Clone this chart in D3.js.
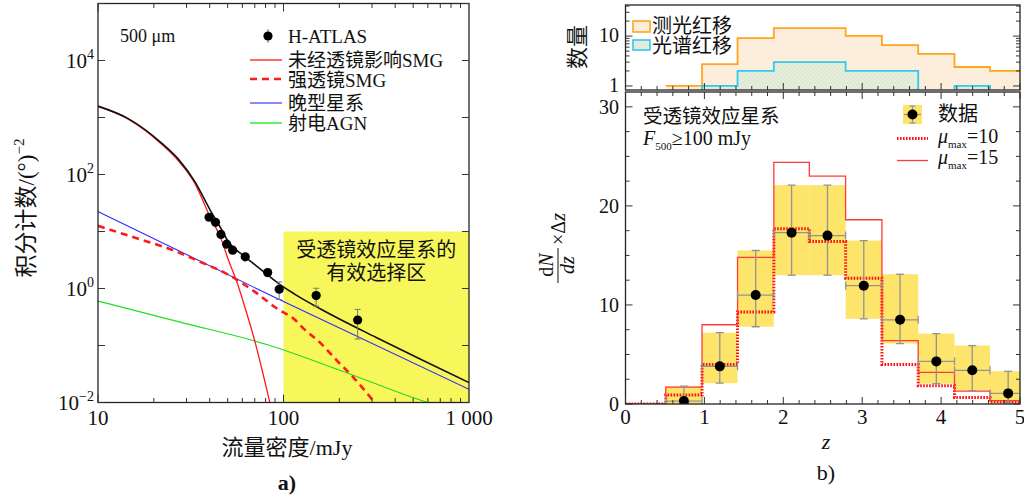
<!DOCTYPE html>
<html><head><meta charset="utf-8">
<script src="https://cdn.jsdelivr.net/npm/d3@7"></script>
<style>
body{margin:0;background:#fff}
svg{display:block}
text{font-family:"Liberation Serif","Noto Sans CJK SC",serif;fill:#111}
</style>
</head><body>
<svg id="c" width="1024" height="497"></svg>
<script>
// ===== Panel a data (flux density mJy, integral counts deg^-2) =====
const countS   = [39.7, 43, 46, 49.4, 53.2, 62.2, 82.2, 94.8, 150, 251];
const countN   = [17.8, 14.5, 8.9, 6.0, 4.7, 3.6, 1.9, 0.97, 0.75, 0.28];
const countErr = [1.0, 0.8, 0.6, 0.45, 0.4, 0.35, 0.25, 0.33, 0.26, 0.15];

const totalS = [10, 14.55, 22.03, 27.1, 33.34, 40.18, 46.45, 50.47, 61.94, 76.21, 93.76, 115.3, 158.5, 316.2, 562.3, 1000];
const totalN = [1585, 955, 355, 186, 74.1, 24.0, 10.7, 6.6, 3.63, 2.11, 1.23, 0.79, 0.437, 0.138, 0.055, 0.0224];

const unlensS = [10, 14.55, 22.03, 27.1, 33.34, 39.4, 46.45, 50.47, 55.85, 61.94, 70.15, 77.62, 85.1];
const unlensN = [1549, 933, 339, 174, 69.2, 20.9, 6.92, 3.16, 1.35, 0.468, 0.117, 0.0316, 0.0089];

const lensS = [10, 15.85, 24.95, 35.48, 50.47, 70.15, 92.0, 115.3, 127.9, 158.5, 193.6, 239.9, 292.4, 316.2];
const lensN = [12.6, 7.76, 4.79, 2.95, 1.74, 0.871, 0.447, 0.282, 0.2, 0.11, 0.055, 0.0269, 0.0126, 0.0093];

const lateS = [10, 100, 1000];
const lateN = [22.4, 0.589, 0.017];

const agnS = [10, 27.7, 84.5, 199.5, 595.7, 640];
const agnN = [0.603, 0.257, 0.1, 0.0372, 0.01, 0.0093];

const aXTicks = [10, 100, 1000];
const aXLabels = ["10", "100", "1 000"];
const aYTicks = [1e-2, 1, 1e2, 1e4];
const aYExp = ["\u22122", "0", "2", "4"];
const aLegend = ["H-ATLAS", "未经透镜影响SMG", "强透镜SMG", "晚型星系", "射电AGN"];

// ===== Panel b data =====
const zEdges = [0, 0.51, 0.97, 1.42, 1.88, 2.33, 2.79, 3.25, 3.71, 4.17, 4.62, 5.08];
const dataN  = [0.3, 3.8, 11.0, 17.3, 17.0, 11.95, 8.5, 4.3, 3.4, 1.07];
const dataLo = [0, 2.1, 7.8, 13.0, 13.0, 8.6, 6.1, 2.05, 1.35, 0.1];
const dataHi = [1.8, 7.2, 15.5, 22.1, 22.1, 16.5, 13.1, 7.1, 5.9, 3.3];
const mu15 = [0, 1.7, 8.0, 14.8, 24.4, 23.0, 18.6, 6.4, 3.2, 1.3, 0.35];
const mu10 = [0, 0.9, 4.0, 9.3, 17.7, 16.4, 12.7, 4.0, 1.85, 0.65, 0.2];
const photoN = [1, 2.75, 9.1, 14.5, 14.5, 10.1, 6.6, 4.4, 2.4, 2.0];
const specN  = [0, 1, 2, 3, 3, 2, 2, 0, 1, 0];
const bXTicks = [0, 1, 2, 3, 4, 5];
const bYTicks = [0, 10, 20, 30];
const topYTicks = [1, 10];

const svg = d3.select("#c");
const defs = svg.append("defs");

// ---------------- Panel a ----------------
const A = {x0: 98, x1: 469, y0: 3.5, y1: 402.5};
const xA = d3.scaleLog().domain([10, 1000]).range([A.x0, A.x1]);
const yA = d3.scaleLog().domain([1e-2, 1e5]).range([A.y1, A.y0]);
defs.append("clipPath").attr("id", "clipA").append("rect")
  .attr("x", A.x0).attr("y", A.y0).attr("width", A.x1 - A.x0).attr("height", A.y1 - A.y0);

const gA = svg.append("g");
gA.append("rect").attr("x", xA(100)).attr("y", yA(10))
  .attr("width", xA(1000) - xA(100)).attr("height", yA(1e-2) - yA(10))
  .attr("fill", "#f7f75c");
gA.append("text").attr("x", xA(316)).attr("y", 257).attr("text-anchor", "middle")
  .attr("font-size", 20).text("受透镜效应星系的");
gA.append("text").attr("x", xA(316)).attr("y", 280).attr("text-anchor", "middle")
  .attr("font-size", 20).text("有效选择区");

const lineA = (S, N) => d3.line().x((d, i) => xA(S[i])).y((d, i) => yA(N[i])).curve(d3.curveMonotoneX)(S);
const curves = gA.append("g").attr("clip-path", "url(#clipA)");
curves.append("path").attr("d", lineA(agnS, agnN)).attr("fill", "none").attr("stroke", "#22dd22").attr("stroke-width", 1.1);
curves.append("path").attr("d", lineA(lateS, lateN)).attr("fill", "none").attr("stroke", "#2a2aff").attr("stroke-width", 1.1);
curves.append("path").attr("d", lineA(lensS, lensN)).attr("fill", "none").attr("stroke", "#ff1a1a").attr("stroke-width", 2.6).attr("stroke-dasharray", "7,5");
curves.append("path").attr("d", lineA(unlensS, unlensN)).attr("fill", "none").attr("stroke", "#ff1a1a").attr("stroke-width", 1.3);
curves.append("path").attr("d", lineA(totalS, totalN)).attr("fill", "none").attr("stroke", "#111").attr("stroke-width", 1.6);

const pts = gA.append("g");
countS.forEach((s, i) => {
  const x = xA(s);
  pts.append("line").attr("x1", x).attr("x2", x)
    .attr("y1", yA(countN[i] + countErr[i])).attr("y2", yA(Math.max(countN[i] - countErr[i], 1e-3)))
    .attr("stroke", "#777").attr("stroke-width", 1);
  [countN[i] + countErr[i], countN[i] - countErr[i]].forEach(v => {
    pts.append("line").attr("x1", x - 3).attr("x2", x + 3).attr("y1", yA(v)).attr("y2", yA(v))
      .attr("stroke", "#777").attr("stroke-width", 1);
  });
  pts.append("circle").attr("cx", x).attr("cy", yA(countN[i])).attr("r", 4.6).attr("fill", "#000");
});

gA.append("rect").attr("x", A.x0).attr("y", A.y0).attr("width", A.x1 - A.x0).attr("height", A.y1 - A.y0)
  .attr("fill", "none").attr("stroke", "#222").attr("stroke-width", 1.3);
const tA = gA.append("g").attr("stroke", "#333").attr("stroke-width", 1);
for (let d = 10; d < 1000; d *= 10) {
  for (let k = 1; k <= 9; k++) {
    const v = d * k, x = xA(v), L = k === 1 ? 8 : 4.5;
    tA.append("line").attr("x1", x).attr("x2", x).attr("y1", A.y1).attr("y2", A.y1 - L);
    tA.append("line").attr("x1", x).attr("x2", x).attr("y1", A.y0).attr("y2", A.y0 + L);
  }
}
for (let e = -2; e <= 5; e++) {
  const y = yA(Math.pow(10, e));
  tA.append("line").attr("x1", A.x0).attr("x2", A.x0 + 7).attr("y1", y).attr("y2", y);
  tA.append("line").attr("x1", A.x1).attr("x2", A.x1 - 7).attr("y1", y).attr("y2", y);
}
aXTicks.forEach((v, i) => {
  gA.append("text").attr("x", xA(v)).attr("y", 425).attr("text-anchor", "middle")
    .attr("font-size", 21).text(aXLabels[i]);
});
aYTicks.forEach((v, i) => {
  const t = gA.append("text").attr("x", 94).attr("y", yA(v) + 7).attr("text-anchor", "end").attr("font-size", 21);
  t.append("tspan").text("10");
  t.append("tspan").attr("dy", -9).attr("font-size", 14).text(aYExp[i]);
});
gA.append("text").attr("x", 287).attr("y", 455).attr("text-anchor", "middle").attr("font-size", 22).text("流量密度/mJy");
gA.append("text").attr("x", 287).attr("y", 490).attr("text-anchor", "middle").attr("font-size", 22).attr("font-weight", "bold").text("a)");
const yt = gA.append("text").attr("transform", "translate(34,208) rotate(-90)").attr("text-anchor", "middle").attr("font-size", 23);
yt.append("tspan").text("积分计数/(°)");
yt.append("tspan").attr("dy", -10).attr("font-size", 15).text("\u22122");
gA.append("text").attr("x", 120).attr("y", 42).attr("font-size", 18).text("500 μm");

const legY = [36, 60, 80, 103, 123];
const lg = gA.append("g");
lg.append("line").attr("x1", 268).attr("x2", 268).attr("y1", 29).attr("y2", 43).attr("stroke", "#777").attr("stroke-width", 1);
lg.append("circle").attr("cx", 268).attr("cy", 36).attr("r", 4.6).attr("fill", "#000");
lg.append("line").attr("x1", 250).attr("x2", 282).attr("y1", 60).attr("y2", 60).attr("stroke", "#ff1a1a").attr("stroke-width", 1.3);
lg.append("line").attr("x1", 250).attr("x2", 282).attr("y1", 79).attr("y2", 79).attr("stroke", "#ff1a1a").attr("stroke-width", 2.6).attr("stroke-dasharray", "7,5");
lg.append("line").attr("x1", 250).attr("x2", 282).attr("y1", 103).attr("y2", 103).attr("stroke", "#2a2aff").attr("stroke-width", 1.1);
lg.append("line").attr("x1", 250).attr("x2", 282).attr("y1", 123).attr("y2", 123).attr("stroke", "#66ee66").attr("stroke-width", 2);
aLegend.forEach((s, i) => {
  lg.append("text").attr("x", 288).attr("y", legY[i] + 7).attr("font-size", 19).text(s);
});

// ---------------- Panel b (top histogram) ----------------
const T = {x0: 625.5, x1: 1020, y0: 5, y1: 90};
const xB = d3.scaleLinear().domain([0, 5]).range([625.5, 1020]);
const yT = d3.scaleLog().domain([0.83, 42]).range([T.y1, T.y0]);
defs.append("clipPath").attr("id", "clipT").append("rect")
  .attr("x", T.x0).attr("y", T.y0).attr("width", T.x1 - T.x0).attr("height", T.y1 - T.y0);

const pO = defs.append("pattern").attr("id", "hatchO").attr("patternUnits", "userSpaceOnUse")
  .attr("width", 4).attr("height", 4);
pO.append("rect").attr("width", 4).attr("height", 4).attr("fill", "#fdf0e0");
pO.append("path").attr("d", "M0,4 L4,0").attr("stroke", "#fae2c6").attr("stroke-width", 0.7);
const pB = defs.append("pattern").attr("id", "hatchB").attr("patternUnits", "userSpaceOnUse")
  .attr("width", 4).attr("height", 4);
pB.append("rect").attr("width", 4).attr("height", 4).attr("fill", "#e6eedb");
pB.append("path").attr("d", "M0,0 L4,4").attr("stroke", "#d2e2cc").attr("stroke-width", 0.7);

const yTv = v => v > 0 ? yT(v) : T.y1 + 2;
const stepPts = (vals, edges) => {
  const p = vals.map((v, i) => [edges[i], v]);
  p.push([edges[vals.length], vals[vals.length - 1]]);
  return p;
};
const gT = svg.append("g");
const histEdges = zEdges.slice(1);
const areaT = d3.area().x(d => xB(d[0])).y0(T.y1 + 2).y1(d => yTv(d[1])).curve(d3.curveStepAfter);
const lineT = d3.line().x(d => xB(d[0])).y(d => yTv(d[1])).curve(d3.curveStepAfter);
const cT = gT.append("g").attr("clip-path", "url(#clipT)");
cT.append("path").attr("d", areaT(stepPts(photoN, histEdges))).attr("fill", "url(#hatchO)");
cT.append("path").attr("d", areaT(stepPts(specN, histEdges))).attr("fill", "url(#hatchB)");
cT.append("path").attr("d", lineT(stepPts(photoN, histEdges))).attr("fill", "none").attr("stroke", "#ffa51e").attr("stroke-width", 1.8);
cT.append("path").attr("d", lineT(stepPts(specN, histEdges))).attr("fill", "none").attr("stroke", "#33c8f0").attr("stroke-width", 1.8);
gT.append("rect").attr("x", T.x0).attr("y", T.y0).attr("width", T.x1 - T.x0).attr("height", T.y1 - T.y0)
  .attr("fill", "none").attr("stroke", "#222").attr("stroke-width", 1.3);
const tT = gT.append("g").attr("stroke", "#333").attr("stroke-width", 1);
for (let i = 0; i <= 25; i++) {
  const x = xB(i * 0.2), L = i % 5 === 0 ? 7 : 4;
  tT.append("line").attr("x1", x).attr("x2", x).attr("y1", T.y1).attr("y2", T.y1 - L);
}
[1, 2, 3, 4, 5, 6, 7, 8, 9, 10, 20, 30, 40].forEach(v => {
  const y = yT(v), L = (v === 1 || v === 10) ? 7 : 4;
  tT.append("line").attr("x1", T.x0).attr("x2", T.x0 + L).attr("y1", y).attr("y2", y);
  tT.append("line").attr("x1", T.x1).attr("x2", T.x1 - L).attr("y1", y).attr("y2", y);
});
topYTicks.forEach(v => {
  gT.append("text").attr("x", 619).attr("y", yT(v) + 6).attr("text-anchor", "end").attr("font-size", 20).text(String(v));
});
gT.append("text").attr("transform", "translate(585,47) rotate(-90)").attr("text-anchor", "middle").attr("font-size", 22).text("数量");
gT.append("rect").attr("x", 633).attr("y", 21).attr("width", 17).attr("height", 11).attr("fill", "url(#hatchO)").attr("stroke", "#ffa51e").attr("stroke-width", 1.6);
gT.append("text").attr("x", 652).attr("y", 33).attr("font-size", 20).text("测光红移");
gT.append("rect").attr("x", 633).attr("y", 40).attr("width", 17).attr("height", 10).attr("fill", "url(#hatchB)").attr("stroke", "#33c8f0").attr("stroke-width", 1.6);
gT.append("text").attr("x", 652).attr("y", 53).attr("font-size", 20).text("光谱红移");

// ---------------- Panel b (bottom) ----------------
const B = {x0: 625.5, x1: 1020, y0: 92, y1: 404};
const yB = d3.scaleLinear().domain([0, 31.5]).range([B.y1, B.y0]);
defs.append("clipPath").attr("id", "clipB").append("rect")
  .attr("x", B.x0).attr("y", B.y0).attr("width", B.x1 - B.x0).attr("height", B.y1 - B.y0);
const gB = svg.append("g");
const cB = gB.append("g").attr("clip-path", "url(#clipB)");
dataN.forEach((v, i) => {
  const a = zEdges[i + 1], b = zEdges[i + 2];
  cB.append("rect").attr("x", xB(a)).attr("y", yB(dataHi[i])).attr("width", xB(b) - xB(a))
    .attr("height", yB(dataLo[i]) - yB(dataHi[i])).attr("fill", "#fde46a");
});
const lineB = d3.line().x(d => xB(d[0])).y(d => yB(d[1])).curve(d3.curveStepAfter);
cB.append("path").attr("d", lineB(stepPts(mu10, zEdges))).attr("fill", "none")
  .attr("stroke", "#ff1010").attr("stroke-width", 3).attr("stroke-dasharray", "1.6,1.4");
cB.append("path").attr("d", lineB(stepPts(mu15, zEdges))).attr("fill", "none")
  .attr("stroke", "#ff3a3a").attr("stroke-width", 1.3);
dataN.forEach((v, i) => {
  const a = zEdges[i + 1], b = zEdges[i + 2], c = (a + b) / 2, x = xB(c);
  const g = cB.append("g").attr("stroke", "#939393").attr("stroke-width", 1.3);
  g.append("line").attr("x1", x).attr("x2", x).attr("y1", yB(dataHi[i])).attr("y2", yB(dataLo[i]));
  g.append("line").attr("x1", x - 4).attr("x2", x + 4).attr("y1", yB(dataHi[i])).attr("y2", yB(dataHi[i]));
  g.append("line").attr("x1", x - 4).attr("x2", x + 4).attr("y1", yB(dataLo[i])).attr("y2", yB(dataLo[i]));
  g.append("line").attr("x1", xB(a)).attr("x2", xB(b)).attr("y1", yB(v)).attr("y2", yB(v));
  g.append("line").attr("x1", xB(a)).attr("x2", xB(a)).attr("y1", yB(v) - 4).attr("y2", yB(v) + 4);
  g.append("line").attr("x1", xB(b)).attr("x2", xB(b)).attr("y1", yB(v) - 4).attr("y2", yB(v) + 4);
  cB.append("circle").attr("cx", x).attr("cy", yB(v)).attr("r", 5).attr("fill", "#000");
});
gB.append("rect").attr("x", B.x0).attr("y", B.y0).attr("width", B.x1 - B.x0).attr("height", B.y1 - B.y0)
  .attr("fill", "none").attr("stroke", "#222").attr("stroke-width", 1.3);
const tB = gB.append("g").attr("stroke", "#333").attr("stroke-width", 1);
for (let i = 0; i <= 25; i++) {
  const x = xB(i * 0.2), L = i % 5 === 0 ? 7 : 4;
  tB.append("line").attr("x1", x).attr("x2", x).attr("y1", B.y1).attr("y2", B.y1 - L);
  tB.append("line").attr("x1", x).attr("x2", x).attr("y1", B.y0).attr("y2", B.y0 + L);
}
for (let i = 0; i <= 12; i++) {
  const v = i * 2.5, y = yB(v), L = i % 4 === 0 ? 7 : 4;
  tB.append("line").attr("x1", B.x0).attr("x2", B.x0 + L).attr("y1", y).attr("y2", y);
  tB.append("line").attr("x1", B.x1).attr("x2", B.x1 - L).attr("y1", y).attr("y2", y);
}
bXTicks.forEach(v => {
  gB.append("text").attr("x", xB(v)).attr("y", 424).attr("text-anchor", "middle").attr("font-size", 21).text(String(v));
});
bYTicks.forEach(v => {
  gB.append("text").attr("x", 619).attr("y", yB(v) + 7).attr("text-anchor", "end").attr("font-size", 20).text(String(v));
});
gB.append("text").attr("x", 826).attr("y", 449).attr("text-anchor", "middle").attr("font-size", 22).attr("font-style", "italic").text("z");
gB.append("text").attr("x", 826).attr("y", 480).attr("text-anchor", "middle").attr("font-size", 22).text("b)");
const yg = gB.append("g").attr("transform", "translate(560,245) rotate(-90)");
const num = yg.append("text").attr("x", -20).attr("y", -7).attr("text-anchor", "middle").attr("font-size", 20);
num.append("tspan").text("d");
num.append("tspan").attr("font-style", "italic").text("N");
yg.append("line").attr("x1", -38).attr("x2", -3).attr("y1", -2).attr("y2", -2).attr("stroke", "#111").attr("stroke-width", 1);
yg.append("text").attr("x", -20).attr("y", 14).attr("text-anchor", "middle").attr("font-size", 20).attr("font-style", "italic").text("dz");
const tz = yg.append("text").attr("x", 0).attr("y", 5).attr("font-size", 20);
tz.append("tspan").text("×Δ");
tz.append("tspan").attr("font-style", "italic").text("z");
gB.append("text").attr("x", 643).attr("y", 123).attr("font-size", 19.5).text("受透镜效应星系");
const ft = gB.append("text").attr("x", 643).attr("y", 145).attr("font-size", 20);
ft.append("tspan").attr("font-style", "italic").text("F");
ft.append("tspan").attr("dy", 5).attr("font-size", 11).text("500");
ft.append("tspan").attr("dy", -5).text("≥100 mJy");
gB.append("rect").attr("x", 903).attr("y", 105).attr("width", 19).attr("height", 19).attr("fill", "#fde46a");
const lgb = gB.append("g").attr("stroke", "#939393").attr("stroke-width", 1.2);
lgb.append("line").attr("x1", 912.5).attr("x2", 912.5).attr("y1", 106).attr("y2", 123);
lgb.append("line").attr("x1", 909.5).attr("x2", 915.5).attr("y1", 106).attr("y2", 106);
lgb.append("line").attr("x1", 909.5).attr("x2", 915.5).attr("y1", 123).attr("y2", 123);
lgb.append("line").attr("x1", 904).attr("x2", 921).attr("y1", 114.5).attr("y2", 114.5);
gB.append("circle").attr("cx", 912.5).attr("cy", 114.5).attr("r", 5).attr("fill", "#000");
gB.append("text").attr("x", 938).attr("y", 121).attr("font-size", 20).text("数据");
gB.append("line").attr("x1", 897).attr("x2", 928).attr("y1", 138.5).attr("y2", 138.5)
  .attr("stroke", "#ff1010").attr("stroke-width", 3).attr("stroke-dasharray", "1.6,1.4");
gB.append("line").attr("x1", 897).attr("x2", 928).attr("y1", 160.5).attr("y2", 160.5)
  .attr("stroke", "#ff3a3a").attr("stroke-width", 1.3);
["10", "15"].forEach((s, i) => {
  const t = gB.append("text").attr("x", 938).attr("y", 143 + i * 21).attr("font-size", 20);
  t.append("tspan").attr("font-style", "italic").text("μ");
  t.append("tspan").attr("dy", 5).attr("font-size", 11).text("max");
  t.append("tspan").attr("dy", -5).text("=" + s);
});
</script>
</body></html>
